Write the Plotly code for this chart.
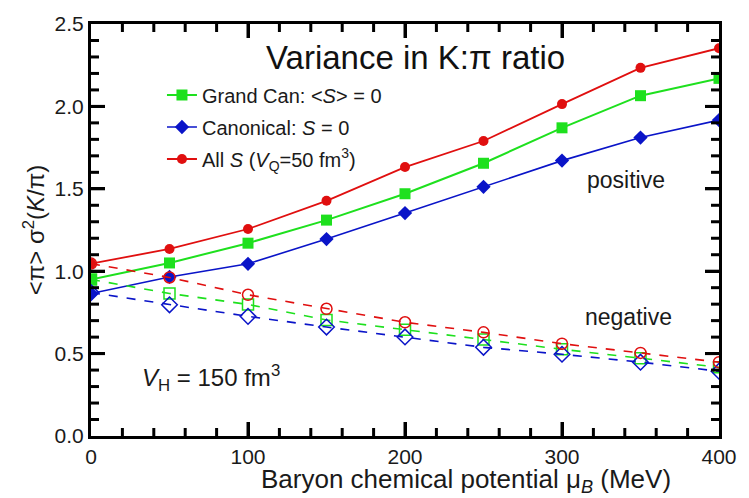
import plotly.graph_objects as go

# Baryon chemical potential (MeV)
mu_b = [0, 50, 100, 150, 200, 250, 300, 350, 400]

# positive-correlation (solid) series
grand_can_pos = [0.95, 1.05, 1.17, 1.31, 1.47, 1.655, 1.87, 2.065, 2.17]
canonical_pos = [0.865, 0.965, 1.045, 1.195, 1.353, 1.512, 1.671, 1.811, 1.917]
all_s_pos = [1.046, 1.135, 1.256, 1.427, 1.632, 1.79, 2.014, 2.234, 2.353]

# negative-correlation (dashed) series
grand_can_neg = [0.95, 0.865, 0.798, 0.704, 0.645, 0.585, 0.526, 0.472, 0.417]
canonical_neg = [0.87, 0.796, 0.726, 0.661, 0.601, 0.538, 0.496, 0.448, 0.393]
all_s_neg = [1.046, 0.962, 0.857, 0.772, 0.690, 0.629, 0.560, 0.504, 0.448]

# axis ticks
x_major = [0, 100, 200, 300, 400]
x_minor = [v for v in range(20, 400, 20) if v % 100]
y_major = [0, 0.5, 1.0, 1.5, 2.0, 2.5]
y_labels = ["0.0", "0.5", "1.0", "1.5", "2.0", "2.5"]
y_minor = [i / 10 for i in range(1, 25) if i % 5]

GREEN = "#1ee01e"
BLUE = "#0a14c8"
RED = "#e00f0f"
FONT = "Liberation Sans, Arial, sans-serif"
TXT = "#1a1a1a"

fig = go.Figure()

fig.add_trace(go.Scatter(
    x=mu_b, y=grand_can_pos, mode="lines+markers", legendgroup="gc",
    name="Grand Can: &lt;<i>S</i>&gt; = 0",
    line=dict(color=GREEN, width=2),
    marker=dict(symbol="square", size=11, color=GREEN)))
fig.add_trace(go.Scatter(
    x=mu_b, y=canonical_pos, mode="lines+markers", legendgroup="can",
    name="Canonical: <i>S</i> = 0",
    line=dict(color=BLUE, width=1.6),
    marker=dict(symbol="diamond", size=11, color=BLUE)))
fig.add_trace(go.Scatter(
    x=mu_b, y=all_s_pos, mode="lines+markers", legendgroup="all",
    name="All <i>S</i> (<i>V</i><sub>Q</sub>=50 fm<sup>3</sup>)",
    line=dict(color=RED, width=1.8),
    marker=dict(symbol="circle", size=10, color=RED)))

fig.add_trace(go.Scatter(
    x=mu_b, y=grand_can_neg, mode="lines+markers", showlegend=False,
    line=dict(color=GREEN, width=1.6, dash="dash"),
    marker=dict(symbol="square-open", size=11, color=GREEN, line=dict(width=1.5))))
fig.add_trace(go.Scatter(
    x=mu_b, y=canonical_neg, mode="lines+markers", showlegend=False,
    line=dict(color=BLUE, width=1.6, dash="dash"),
    marker=dict(symbol="diamond-open", size=12, color=BLUE, line=dict(width=1.5))))
fig.add_trace(go.Scatter(
    x=mu_b, y=all_s_neg, mode="lines+markers", showlegend=False,
    line=dict(color=RED, width=1.6, dash="dash"),
    marker=dict(symbol="circle-open", size=11, color=RED, line=dict(width=1.5))))

fig.update_xaxes(
    range=[0, 400], tickmode="array", tickvals=x_major,
    ticks="inside", ticklen=14, tickwidth=3, tickcolor="black",
    showline=True, linewidth=3, linecolor="black", mirror="ticks",
    showgrid=False, zeroline=False,
    tickfont=dict(family=FONT, size=21, color=TXT),
)
fig.update_yaxes(
    range=[0, 2.5], tickmode="array", tickvals=y_major, ticktext=y_labels,
    ticks="inside", ticklen=14, tickwidth=3, tickcolor="black",
    showline=True, linewidth=3, linecolor="black", mirror="ticks",
    showgrid=False, zeroline=False,
    tickfont=dict(family=FONT, size=21, color=TXT),
    title=dict(text="&lt;\u03c0&gt; \u03c3<sup>2</sup>(<i>K</i>/\u03c0)",
               font=dict(family=FONT, size=24, color=TXT), standoff=4),
)

# inward tick marks on all four sides (pixel lengths)
tick_line = dict(color="black", width=3)


def x_ticks(values, length):
    for v in values:
        if v in (0, 400):
            continue
        for anchor, sign in ((0, 1), (1, -1)):
            fig.add_shape(type="line", xref="x", yref="paper",
                          x0=v, x1=v, ysizemode="pixel", yanchor=anchor,
                          y0=0, y1=sign * length, line=tick_line, layer="above")


def y_ticks(values, length):
    for v in values:
        if v in (0, 2.5):
            continue
        for anchor, sign in ((0, 1), (1, -1)):
            fig.add_shape(type="line", xref="paper", yref="y",
                          y0=v, y1=v, xsizemode="pixel", xanchor=anchor,
                          x0=0, x1=sign * length, line=tick_line, layer="above")


x_ticks(x_major, 14)
x_ticks(x_minor, 8)
y_ticks(y_major, 14)
y_ticks(y_minor, 8)

# x-axis title
fig.add_annotation(x=0.597, y=-0.062, xref="paper", yref="paper",
                   xanchor="center", yanchor="top", showarrow=False,
                   text="Baryon chemical potential \u03bc<sub><i>B</i></sub> (MeV)",
                   font=dict(family=FONT, size=26, color=TXT))

fig.add_annotation(x=0.516, y=0.919, xref="paper", yref="paper",
                   xanchor="center", yanchor="middle",
                   text="Variance in K:\u03c0 ratio", showarrow=False,
                   font=dict(family=FONT, size=33, color="#111"))
fig.add_annotation(x=0.852, y=0.621, xref="paper", yref="paper",
                   xanchor="center", yanchor="middle",
                   text="positive", showarrow=False,
                   font=dict(family=FONT, size=23, color=TXT))
fig.add_annotation(x=0.856, y=0.288, xref="paper", yref="paper",
                   xanchor="center", yanchor="middle",
                   text="negative", showarrow=False,
                   font=dict(family=FONT, size=23, color=TXT))
fig.add_annotation(x=0.078, y=0.14, xref="paper", yref="paper",
                   xanchor="left", yanchor="middle",
                   text="<i>V</i><sub>H</sub> = 150 fm<sup>3</sup>", showarrow=False,
                   font=dict(family=FONT, size=24, color=TXT))

fig.update_layout(
    width=749, height=498,
    margin=dict(l=91, r=21, t=16, b=62),
    plot_bgcolor="white", paper_bgcolor="white",
    legend=dict(x=0.113, y=0.875, xanchor="left", yanchor="top",
                bgcolor="rgba(0,0,0,0)", tracegroupgap=3,
                font=dict(family=FONT, size=20, color=TXT)),
)

fig.write_html("out.html")
